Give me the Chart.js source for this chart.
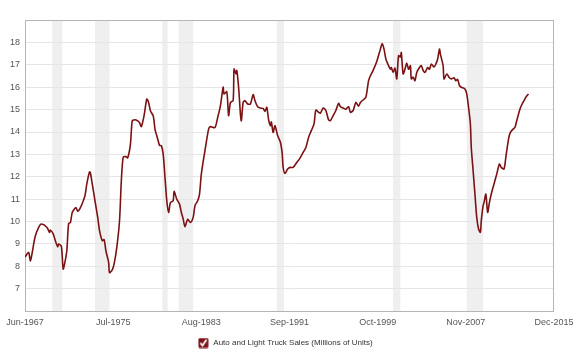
<!DOCTYPE html>
<html>
<head>
<meta charset="utf-8">
<script src="https://cdn.jsdelivr.net/npm/chart.js@4"></script>
<style>
  html, body { margin: 0; padding: 0; background: #fff; }
  #wrap { width: 580px; height: 359px; }
</style>
</head>
<body>
<div id="wrap"><canvas id="lineChart"></canvas></div>
<script>
const dates = ['1967-06','1967-10','1967-12','1968-05','1968-09','1968-12','1969-06','1969-09','1969-10','1970-01',
  '1970-04','1970-06','1970-07','1970-10','1970-12','1971-02','1971-04','1971-06','1971-08','1971-10',
  '1972-02','1972-04','1972-06','1972-09','1972-12','1973-02','1973-05','1973-06','1973-08','1973-11',
  '1974-02','1974-04','1974-07','1974-09','1974-11','1975-02','1975-03','1975-06','1975-08','1975-11',
  '1976-02','1976-04','1976-06','1976-09','1976-11','1977-02','1977-04','1977-07','1977-10','1977-12',
  '1978-02','1978-05','1978-08','1978-10','1978-12','1979-03','1979-04','1979-05','1979-08','1979-10',
  '1979-12','1980-02','1980-04','1980-06','1980-08','1980-10','1981-01','1981-02','1981-05','1981-08',
  '1981-10','1981-12','1982-02','1982-05','1982-08','1982-11','1983-01','1983-04','1983-06','1983-08',
  '1983-12','1984-04','1984-06','1984-11','1985-02','1985-05','1985-08','1985-09','1985-12','1986-02',
  '1986-04','1986-07','1986-08','1986-10','1986-11','1987-01','1987-03','1987-04','1987-06','1987-08',
  '1987-11','1988-02','1988-05','1988-07','1988-10','1989-01','1989-04','1989-06','1989-08','1989-10',
  '1989-12','1990-01','1990-03','1990-05','1990-08','1990-11','1991-01','1991-02','1991-04','1991-07',
  '1991-10','1992-01','1992-05','1992-08','1992-12','1993-03','1993-06','1993-09','1993-12','1994-02',
  '1994-05','1994-07','1994-10','1995-01','1995-04','1995-06','1995-09','1995-12','1996-03','1996-05',
  '1996-08','1996-11','1997-02','1997-04','1997-07','1997-10','1998-01','1998-03','1998-06','1998-09',
  '1998-12','1999-02','1999-05','1999-09','2000-01','2000-03','2000-05','2000-07','2000-10','2000-12',
  '2001-01','2001-03','2001-05','2001-07','2001-09','2001-11','2001-12','2002-02','2002-04','2002-06',
  '2002-08','2002-10','2002-11','2003-01','2003-03','2003-05','2003-08','2003-10','2003-12','2004-02',
  '2004-05','2004-07','2004-09','2004-12','2005-02','2005-04','2005-06','2005-07','2005-10','2005-11',
  '2006-02','2006-05','2006-07','2006-10','2006-12','2007-02','2007-04','2007-06','2007-10','2007-12',
  '2008-02','2008-04','2008-05','2008-07','2008-09','2008-11','2009-01','2009-03','2009-04','2009-06',
  '2009-07','2009-09','2009-11','2010-01','2010-03','2010-06','2010-09','2010-12','2011-02','2011-05',
  '2011-07','2011-10','2011-12','2012-03','2012-05','2012-07','2012-10','2012-12','2013-03','2013-05',
  '2013-08'];

const sales = [8.42,8.62,8.25,9.3,9.74,9.89,9.75,9.52,9.62,9.45,
  9.07,8.88,9.0,8.9,7.88,8.2,8.7,9.92,9.96,10.41,
  10.63,10.46,10.55,10.81,11.16,11.68,12.22,12.17,11.68,10.93,
  10.19,9.6,9.15,9.2,8.7,8.18,7.72,7.85,8.1,8.85,
  10.04,11.83,12.87,12.9,12.85,13.46,14.5,14.55,14.5,14.42,
  14.24,14.73,15.47,15.32,14.95,14.73,14.5,14.13,13.69,13.4,
  13.39,13.02,11.98,10.93,10.41,10.85,10.93,11.35,11.0,10.78,
  10.41,10.12,9.77,10.1,9.96,10.19,10.71,10.93,11.23,12.12,
  13.17,14.13,14.24,14.2,14.65,15.17,16.0,15.7,15.8,14.73,
  15.32,15.4,16.81,16.6,16.75,16.0,14.8,14.5,15.32,15.4,
  15.25,15.25,15.67,15.4,15.13,15.07,15.05,14.92,15.1,14.55,
  14.28,14.45,13.98,14.28,13.83,13.54,13.02,12.42,12.15,12.35,
  12.42,12.42,12.64,12.8,13.09,13.31,13.76,14.06,14.36,14.98,
  14.88,14.84,15.07,14.96,14.54,14.51,14.73,14.96,15.28,15.13,
  15.07,15.02,15.13,14.88,14.96,15.32,15.15,15.32,15.43,15.55,
  16.29,16.51,16.75,17.15,17.7,17.95,17.7,17.26,16.96,16.81,
  16.88,16.66,16.85,16.37,17.41,17.35,17.55,16.59,16.8,17.08,
  16.8,16.96,16.37,16.45,16.29,16.66,16.88,16.96,16.75,16.66,
  16.88,16.8,17.03,16.9,17.03,17.26,17.7,17.48,16.96,16.37,
  16.59,16.42,16.37,16.42,16.29,16.35,16.07,16.0,15.92,15.7,
  15.1,14.36,13.31,12.27,11.23,10.19,9.67,9.52,10.04,10.71,
  10.85,11.23,10.41,10.86,11.23,11.68,12.12,12.57,12.42,12.35,
  12.87,13.69,13.98,14.13,14.2,14.5,14.95,15.17,15.4,15.55,
  15.7];

const tickLabels = ['Jun-1967','Jul-1975','Aug-1983','Sep-1991','Oct-1999','Nov-2007','Dec-2015'];

// NBER recessions (shaded bands)
const recessionStart = ['1969-12','1973-11','1980-01','1981-07','1990-07','2001-03','2007-12'];
const recessionEnd   = ['1970-11','1975-03','1980-07','1982-11','1991-03','2001-11','2009-06'];

const monthNames = ['Jan','Feb','Mar','Apr','May','Jun','Jul','Aug','Sep','Oct','Nov','Dec'];
const FONT = '"Liberation Sans", Arial, sans-serif';
const LINE_COLOR = '#7b1113';

// months since Jun-1967
function monthIndex(str) {
  const [y, m] = str.split('-').map(Number);
  return (y * 12 + m - 1) - (1967 * 12 + 5);
}
function labelIndex(lbl) {
  const [mon, y] = lbl.split('-');
  return monthIndex(y + '-' + String(monthNames.indexOf(mon) + 1).padStart(2, '0'));
}
const tickValues = tickLabels.map(labelIndex);

// checkbox icon for the legend
const checkIcon = document.createElement('canvas');
checkIcon.width = 11;
checkIcon.height = 11;
(function () {
  const c = checkIcon.getContext('2d');
  c.fillStyle = '#7d1518';
  c.beginPath();
  c.roundRect(0.5, 0.5, 10, 10, 1.5);
  c.fill();
  c.strokeStyle = '#fff';
  c.lineWidth = 1.8;
  c.beginPath();
  c.moveTo(2.5, 5.5);
  c.lineTo(4.6, 8);
  c.lineTo(8.6, 2.2);
  c.stroke();
})();

const bandsPlugin = {
  id: 'bands',
  afterLayout(chart) {
    // center the legend under the plot like the original
    if (chart.legend) chart.legend.left = 16;
  },
  beforeDraw(chart) {
    const {ctx, chartArea: a, scales: {x}} = chart;
    ctx.save();
    ctx.fillStyle = '#efefef';
    recessionStart.forEach((s, i) => {
      const x0 = x.getPixelForValue(monthIndex(s));
      const x1 = x.getPixelForValue(monthIndex(recessionEnd[i]));
      ctx.fillRect(x0, a.top, x1 - x0, a.bottom - a.top);
    });
    ctx.restore();
  },
  beforeDatasetsDraw(chart) {
    const {ctx, chartArea: a} = chart;
    ctx.save();
    ctx.strokeStyle = '#b5b5b5';
    ctx.lineWidth = 1;
    ctx.strokeRect(Math.round(a.left) + 0.5, Math.round(a.top) + 0.5,
      Math.round(a.right - a.left) - 1, Math.round(a.bottom - a.top));
    ctx.restore();
  }
};

new Chart(document.getElementById('lineChart'), {
  type: 'line',
  data: {
    datasets: [{
      label: 'Auto and Light Truck Sales (Millions of Units)',
      data: dates.map((d, i) => ({x: monthIndex(d), y: sales[i]})),
      borderColor: LINE_COLOR,
      backgroundColor: LINE_COLOR,
      borderWidth: 1.6,
      pointRadius: 0,
      tension: 0.25,
      fill: false
    }]
  },
  options: {
    responsive: true,
    maintainAspectRatio: false,
    animation: false,
    layout: { padding: { left: 0, right: 26, top: 20, bottom: 2 } },
    plugins: {
      tooltip: { enabled: false },
      legend: {
        position: 'bottom',
        labels: {
          usePointStyle: true,
          pointStyleWidth: 12,
          padding: 5,
          color: '#333',
          font: { family: FONT, size: 8 },
          generateLabels(chart) {
            const ds = chart.data.datasets[0];
            return [{ text: ds.label, pointStyle: checkIcon, fontColor: '#333',
              strokeStyle: 'transparent', fillStyle: 'transparent', lineWidth: 0, datasetIndex: 0 }];
          }
        }
      }
    },
    scales: {
      x: {
        type: 'linear',
        min: 0,
        max: tickValues[tickValues.length - 1],
        grid: { display: false, drawTicks: false },
        border: { display: false },
        afterBuildTicks(scale) {
          scale.ticks = tickValues.map(v => ({ value: v }));
        },
        ticks: {
          autoSkip: false,
          maxRotation: 0,
          padding: 6,
          color: '#555',
          font: { family: FONT, size: 9 },
          callback(v) {
            const i = tickValues.indexOf(v);
            return i >= 0 ? tickLabels[i] : '';
          }
        }
      },
      y: {
        min: 6,
        max: 19,
        grid: { color: '#e6e6e6', drawTicks: false },
        border: { display: false },
        afterFit(scale) { scale.width = 25; },
        ticks: {
          stepSize: 1,
          padding: 5,
          color: '#555',
          font: { family: FONT, size: 9 },
          callback(v) { return (v === 6 || v === 19) ? '' : v; }
        }
      }
    }
  },
  plugins: [bandsPlugin]
});
</script>
</body>
</html>
